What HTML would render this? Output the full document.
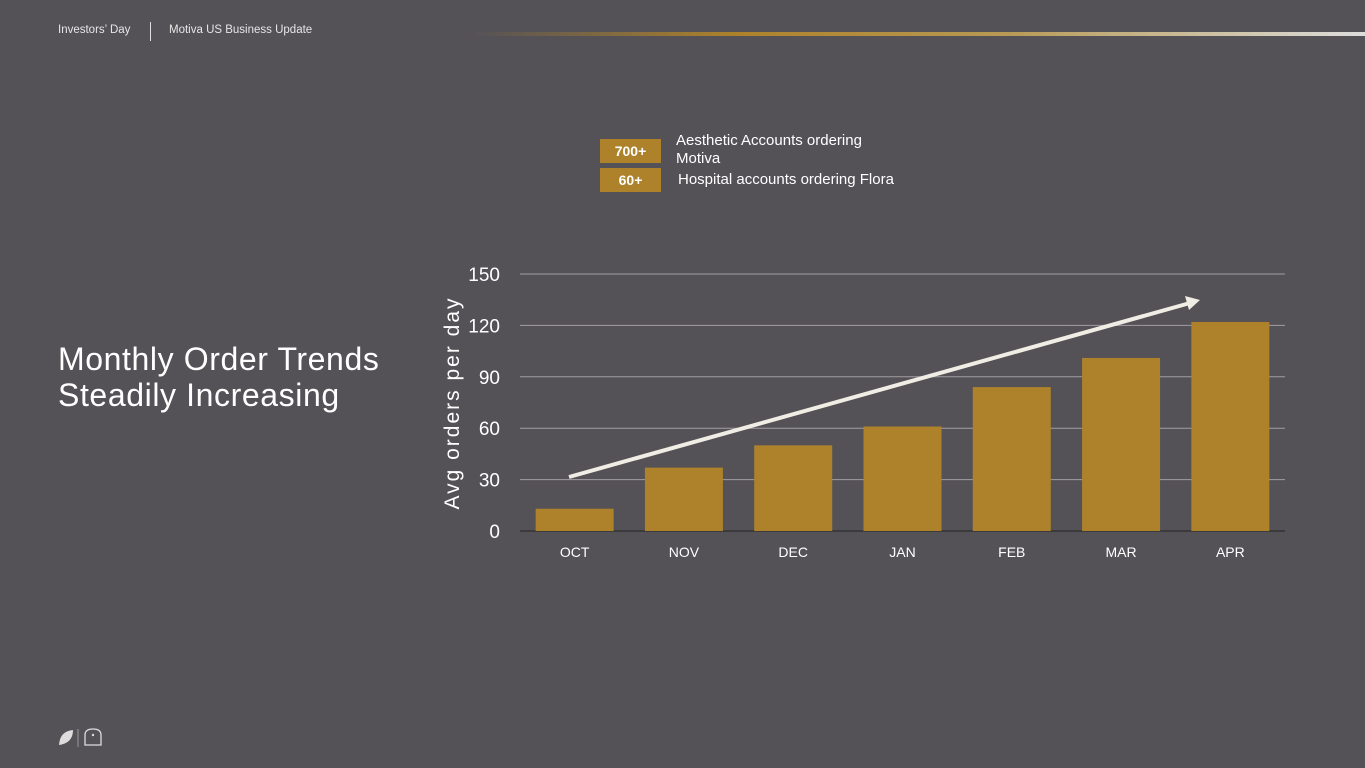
<!DOCTYPE html>
<html><head><meta charset="utf-8"><style>
body{margin:0;width:1365px;height:768px;background:#545157;font-family:"Liberation Sans",sans-serif;color:#fff;position:relative;overflow:hidden}
.a{position:absolute}
</style></head><body>
<div class="a" style="left:58px;top:24px;font-size:11.5px;color:#e6e6e6">Investors’ Day</div>
<div class="a" style="left:150px;top:22px;width:1px;height:19px;background:#ddd"></div>
<div class="a" style="left:169px;top:24px;font-size:11.5px;color:#e6e6e6">Motiva US Business Update</div>
<div class="a" style="left:470px;top:32px;width:895px;height:4px;background:linear-gradient(90deg,rgba(173,130,43,0),#ad822b 30%,#b89a55 60%,#ddd 100%)"></div>
<div class="a" style="left:58px;top:341px;font-size:32px;letter-spacing:0.6px;line-height:36px;color:#fff">Monthly Order Trends<br>Steadily Increasing</div>
<div class="a" style="left:600px;top:139px;width:61px;height:24px;background:#ad822b;font-size:14px;font-weight:bold;text-align:center;line-height:24px">700+</div>
<div class="a" style="left:676px;top:132px;font-size:15px;line-height:18px">Aesthetic Accounts ordering<br>Motiva</div>
<div class="a" style="left:600px;top:168px;width:61px;height:24px;background:#ad822b;font-size:14px;font-weight:bold;text-align:center;line-height:24px">60+</div>
<div class="a" style="left:678px;top:171px;font-size:15px">Hospital accounts ordering Flora</div>
<div class="a" style="left:57px;top:727px">
<svg width="50" height="22"><path d="M2 18 Q3 4 16 3 Q16 16 2 18Z" fill="#ddd"/><line x1="21" y1="2" x2="21" y2="20" stroke="#999"/><path d="M28 18 V8 Q28 2 36 2 Q44 2 44 8 V18 H28Z" fill="none" stroke="#ddd" stroke-width="1.3"/><circle cx="36" cy="8" r="1.2" fill="#ddd"/></svg></div>
<svg class="a" style="left:0;top:0" width="1365" height="768" id="chart"></svg>
<script>
const categories=["OCT","NOV","DEC","JAN","FEB","MAR","APR"];
const values=[13,37,50,61,84,101,122];
const ticks=[0,30,60,90,120,150];
const svg=document.getElementById('chart');
const NS='http://www.w3.org/2000/svg';
const x0=520,x1=1285,y0=531,y1=274,maxV=150;
const y=v=>y0-(v/maxV)*(y0-y1);
const bw=(x1-x0)/categories.length;
const x=i=>x0+bw*i+bw/2;
function mk(t,a,txt){const e=document.createElementNS(NS,t);for(const k in a)e.setAttribute(k,a[k]);if(txt!=null)e.textContent=txt;svg.appendChild(e);return e;}
ticks.forEach(t=>{
 const l=mk('line',{x1:x0,x2:x1,y1:y(t),y2:y(t),stroke:t===0?'#222':'#a09ea3','stroke-width':1});
 
 
 const tx=mk('text',{x:500,y:y(t)+7,'text-anchor':'end','font-size':19,fill:'#fff','font-family':'Liberation Sans, sans-serif'},t);
 
 
});
categories.forEach((c,i)=>{
 const r=mk('rect',{x:x(i)-39,y:y(values[i]),width:78,height:y0-y(values[i]),fill:'#ad822b'});
 
 
 const t=mk('text',{x:x(i),y:557,'text-anchor':'middle','font-size':14,fill:'#fff','font-family':'Liberation Sans, sans-serif'},c);
 
 
});
const yt=mk('text',{x:0,y:0,transform:'translate(459,403) rotate(-90)','text-anchor':'middle','font-size':21,'letter-spacing':2,fill:'#fff','font-family':'Liberation Sans, sans-serif'},'Avg orders per day');


const ar=mk('line',{x1:569,y1:477,x2:1190,y2:303,stroke:'#f0ede4','stroke-width':4});


const ah=mk('polygon',{points:'1200,300 1185,296 1189,310',fill:'#f0ede4'});


</script>
</body></html>
